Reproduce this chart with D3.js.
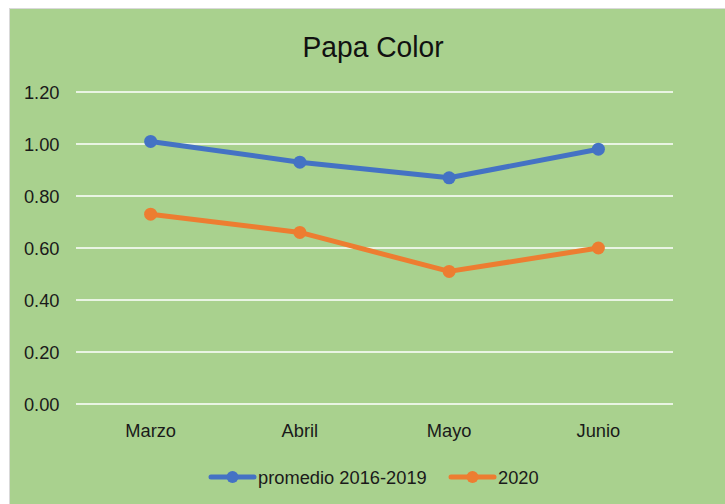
<!DOCTYPE html>
<html>
<head>
<meta charset="UTF-8" />
<script src="https://cdn.jsdelivr.net/npm/d3@7"></script>
<style>
  body { margin: 0; background: #fff; }
  text { font-family: "Liberation Sans", Arial, sans-serif; }
</style>
</head>
<body>
<svg id="chart"></svg>
<script>
// chart data
const months = ["Marzo", "Abril", "Mayo", "Junio"];
const promedio = [1.01, 0.93, 0.87, 0.98];
const year2020 = [0.73, 0.66, 0.51, 0.60];
const yTicks = [0, 0.2, 0.4, 0.6, 0.8, 1.0, 1.2];
const seriesNames = ["promedio 2016-2019", "2020"];
const seriesColors = ["#4472c4", "#ed7d31"];

const width = 725, height = 504;
const labelSize = 18.3;
const svg = d3.select("#chart").attr("width", width).attr("height", height);

// background panel
svg.append("rect").attr("x", 9.5).attr("y", 8.5)
   .attr("width", width).attr("height", height)
   .attr("fill", "#a9d18e").attr("stroke", "#d9d9d9");

const x = d3.scaleBand().domain(months).range([76, 673]);
const y = d3.scaleLinear().domain([0, 1.2]).range([404, 92]);

// gridlines
svg.append("g").selectAll("line").data(yTicks).join("line")
   .attr("x1", 76).attr("x2", 673)
   .attr("y1", d => y(d)).attr("y2", d => y(d))
   .attr("stroke", "#fff").attr("stroke-width", 1.5);

// y axis labels
const yAxis = svg.append("g").attr("transform", "translate(59.5,0)")
   .call(d3.axisLeft(y).tickValues(yTicks).tickFormat(d3.format(".2f")).tickSize(0).tickPadding(0));
yAxis.select(".domain").remove();
yAxis.attr("font-family", null).attr("font-size", null);
yAxis.selectAll("text").attr("font-size", labelSize).attr("fill", "#1a1a1a").attr("dy", "0.38em");

// x axis labels
const xAxis = svg.append("g").attr("transform", "translate(0,423.5)")
   .call(d3.axisBottom(x).tickSize(0).tickPadding(0));
xAxis.select(".domain").remove();
xAxis.attr("font-family", null).attr("font-size", null);
xAxis.selectAll("text").attr("font-size", labelSize).attr("fill", "#1a1a1a");

// title
svg.append("text").attr("transform", "translate(373,56.7) scale(0.94,1)")
   .attr("text-anchor", "middle")
   .attr("font-size", 30).attr("fill", "#111").text("Papa Color");

// lines
const cx = d => x(d) + x.bandwidth() / 2;
[promedio, year2020].forEach((vals, i) => {
  const pts = months.map((m, j) => [cx(m), y(vals[j])]);
  svg.append("path").attr("d", d3.line()(pts))
     .attr("fill", "none").attr("stroke", seriesColors[i])
     .attr("stroke-width", 5).attr("stroke-linejoin", "round").attr("stroke-linecap", "round");
  svg.append("g").selectAll("circle").data(pts).join("circle")
     .attr("cx", d => d[0]).attr("cy", d => d[1]).attr("r", 6.5)
     .attr("fill", seriesColors[i]);
});

// legend
const legendX = [211, 451];
seriesNames.forEach((name, i) => {
  const g = svg.append("g").attr("transform", `translate(${legendX[i]},477)`);
  g.append("line").attr("x1", 0).attr("x2", 43).attr("y1", 0).attr("y2", 0)
   .attr("stroke", seriesColors[i]).attr("stroke-width", 5).attr("stroke-linecap", "round");
  g.append("circle").attr("cx", 21.5).attr("cy", 0).attr("r", 6).attr("fill", seriesColors[i]);
  g.append("text").attr("x", 47).attr("y", 7).attr("font-size", labelSize).attr("fill", "#1a1a1a").text(name);
});
</script>
</body>
</html>
